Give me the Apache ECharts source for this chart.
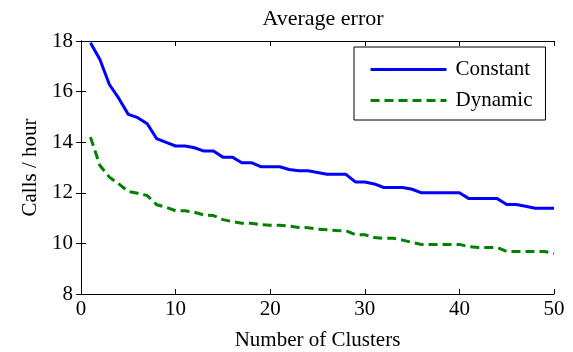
<!DOCTYPE html>
<html>
<head>
<meta charset="utf-8">
<script src="https://cdn.jsdelivr.net/npm/echarts@6/dist/echarts.min.js"></script>
<style>
  html, body { margin: 0; padding: 0; background: #fff; }
  #chart { width: 573px; height: 352px; }
</style>
</head>
<body>
<div id="chart"></div>
<script>
  // number of clusters 1..50
  var clusters = [];
  for (var i = 1; i <= 50; i++) clusters.push(i);

  var constantCalls = [17.93, 17.27, 16.28, 15.73, 15.10, 14.97, 14.73, 14.14, 13.99, 13.85,
                       13.85, 13.78, 13.65, 13.65, 13.41, 13.41, 13.19, 13.19, 13.03, 13.03,
                       13.03, 12.92, 12.87, 12.87, 12.80, 12.73, 12.73, 12.73, 12.43, 12.43,
                       12.35, 12.21, 12.21, 12.21, 12.14, 12.00, 12.00, 12.00, 12.00, 12.00,
                       11.77, 11.77, 11.77, 11.77, 11.54, 11.54, 11.47, 11.39, 11.39, 11.39];

  var dynamicCalls = [14.20, 13.08, 12.62, 12.35, 12.05, 11.98, 11.89, 11.53, 11.43, 11.29,
                      11.29, 11.23, 11.12, 11.10, 10.94, 10.86, 10.80, 10.80, 10.74, 10.72,
                      10.72, 10.69, 10.63, 10.62, 10.56, 10.54, 10.51, 10.50, 10.35, 10.34,
                      10.23, 10.20, 10.20, 10.13, 10.04, 9.96, 9.96, 9.96, 9.96, 9.96,
                      9.87, 9.84, 9.84, 9.84, 9.68, 9.68, 9.68, 9.68, 9.68, 9.60];

  function pairs(ys) {
    return clusters.map(function (x, i) { return [x, ys[i]]; });
  }

  var font = 'Liberation Serif';
  var myChart = echarts.init(document.getElementById('chart'), null, { renderer: 'canvas' });

  var boxAxis = {
    axisLine: { show: true, lineStyle: { color: '#000', width: 1 } },
    axisTick: { show: true, inside: true, length: 5, lineStyle: { color: '#000' } },
    splitLine: { show: false }
  };

  var option = {
    animation: false,
    backgroundColor: '#fff',
    title: {
      text: 'Average error',
      left: 318, textAlign: 'center',
      top: 3,
      textStyle: { fontFamily: font, fontSize: 22, fontWeight: 'normal', color: '#000' }
    },
    grid: { left: 81, right: 19, top: 41, bottom: 58, containLabel: false, outerBoundsMode: 'none' },
    legend: {
      orient: 'vertical',
      left: 354, top: 47,
      padding: [12, 13, 9, 15],
      borderColor: '#000', borderWidth: 1,
      backgroundColor: '#fff',
      itemWidth: 76, itemHeight: 16, itemGap: 10,
      itemStyle: { opacity: 0 },
      lineStyle: { width: 3 },
      textStyle: { fontFamily: font, fontSize: 21, color: '#000', padding: [0, 0, 0, 4] },
      data: ['Constant', 'Dynamic']
    },
    xAxis: [
      Object.assign({
        type: 'value', min: 0, max: 50, interval: 10,
        name: 'Number of Clusters', nameLocation: 'middle', nameGap: 36,
        nameTextStyle: { fontFamily: font, fontSize: 21, color: '#000' },
        axisLabel: { fontFamily: font, fontSize: 21, color: '#000', margin: 5 }
      }, boxAxis),
      Object.assign({
        type: 'value', min: 0, max: 50, interval: 10, position: 'top',
        axisLabel: { show: false }
      }, boxAxis)
    ],
    yAxis: [
      Object.assign({
        type: 'value', min: 8, max: 18, interval: 2,
        name: 'Calls / hour', nameLocation: 'middle', nameGap: 40,
        nameTextStyle: { fontFamily: font, fontSize: 21, color: '#000' },
        axisLabel: { fontFamily: font, fontSize: 21, color: '#000', margin: 8 }
      }, boxAxis),
      Object.assign({
        type: 'value', min: 8, max: 18, interval: 2, position: 'right',
        axisLabel: { show: false }
      }, boxAxis)
    ],
    series: [
      {
        name: 'Constant',
        type: 'line',
        data: pairs(constantCalls),
        symbol: 'none',
        color: '#0000ff',
        lineStyle: { color: '#0000ff', width: 3 }
      },
      {
        name: 'Dynamic',
        type: 'line',
        data: pairs(dynamicCalls),
        symbol: 'none',
        color: '#008000',
        lineStyle: { color: '#008000', width: 3, type: [9, 5] }
      }
    ]
  };
  myChart.setOption(option);
</script>
</body>
</html>
